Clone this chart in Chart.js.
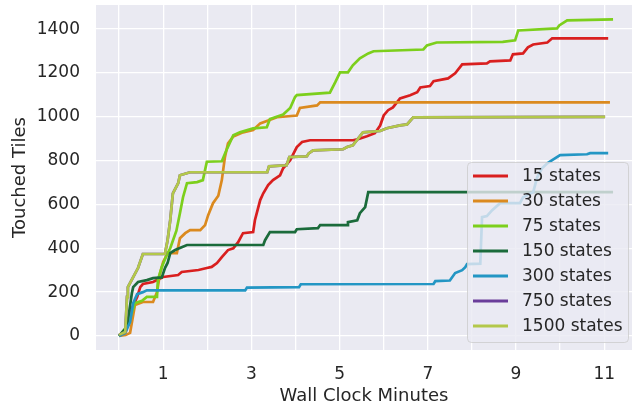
<!DOCTYPE html>
<html>
<head>
<meta charset="utf-8">
<script src="https://cdn.jsdelivr.net/npm/chart.js@4.4.1/dist/chart.umd.min.js"></script>
<style>
  html, body { margin: 0; padding: 0; background: #ffffff; }
  #wrap { width: 636px; height: 409px; }
</style>
</head>
<body>
<div id="wrap"><canvas id="chart"></canvas></div>
<script>
// [wall clock minutes, touched tiles]
const s15 = [[0,0],[0.15,20],[0.3,130],[0.41,178],[0.48,223],[0.54,237],[0.77,246],[1.0,269],[1.34,278],[1.42,292],[1.8,301],[1.99,310],[2.1,315],[2.22,333],[2.33,360],[2.47,392],[2.59,400],[2.7,428],[2.81,469],[3.04,474],[3.08,528],[3.2,620],[3.27,651],[3.38,688],[3.49,711],[3.65,733],[3.72,765],[3.88,802],[4.03,862],[4.15,885],[4.33,893],[5.31,893],[5.45,900],[5.62,911],[5.8,925],[5.92,960],[6.0,1006],[6.1,1030],[6.21,1043],[6.37,1084],[6.6,1098],[6.76,1112],[6.83,1134],[7.05,1140],[7.13,1162],[7.46,1175],[7.62,1198],[7.78,1239],[8.34,1244],[8.41,1253],[8.87,1257],[8.93,1285],[9.16,1289],[9.27,1317],[9.39,1330],[9.71,1339],[9.82,1358],[11.09,1358]];
const s30 = [[0,0],[0.15,5],[0.25,14],[0.36,141],[0.54,155],[0.77,155],[0.86,200],[0.93,287],[1.0,337],[1.1,378],[1.31,378],[1.38,446],[1.5,469],[1.61,483],[1.84,483],[1.95,506],[2.02,551],[2.13,606],[2.25,640],[2.33,711],[2.4,816],[2.47,879],[2.59,910],[2.81,929],[3.04,940],[3.2,970],[3.58,998],[4.03,1006],[4.1,1040],[4.49,1052],[4.56,1066],[11.13,1066]];
const s75 = [[0,0],[0.2,50],[0.36,150],[0.52,160],[0.63,178],[0.86,178],[0.88,255],[0.97,315],[1.08,369],[1.16,400],[1.3,480],[1.38,560],[1.45,633],[1.54,697],[1.77,702],[1.9,711],[1.99,795],[2.33,797],[2.45,855],[2.59,916],[2.74,929],[3.04,947],[3.35,952],[3.42,990],[3.72,1010],[3.88,1040],[3.99,1090],[4.03,1099],[4.78,1110],[4.9,1157],[5.01,1203],[5.19,1203],[5.3,1235],[5.46,1267],[5.65,1289],[5.77,1299],[6.9,1307],[6.98,1326],[7.2,1339],[8.7,1342],[8.98,1349],[9.05,1394],[9.93,1403],[9.98,1417],[10.16,1440],[11.2,1444]];
const s150 = [[0,0],[0.18,41],[0.29,195],[0.32,223],[0.43,246],[0.63,255],[0.77,264],[0.97,267],[1.04,310],[1.1,333],[1.16,378],[1.27,392],[1.42,405],[1.54,415],[3.27,415],[3.31,437],[3.42,474],[3.99,474],[4.03,487],[4.51,492],[4.56,506],[5.17,506],[5.19,519],[5.4,528],[5.46,560],[5.58,588],[5.65,656],[11.2,656]];
const s300 = [[0,0],[0.14,14],[0.25,64],[0.32,150],[0.41,191],[0.54,200],[0.63,208],[2.86,208],[2.9,221],[4.08,223],[4.12,236],[7.13,237],[7.17,250],[7.5,253],[7.62,287],[7.78,300],[7.85,314],[7.89,328],[8.19,330],[8.23,542],[8.34,547],[8.46,574],[8.64,606],[9.09,606],[9.16,633],[9.39,656],[9.48,724],[9.59,765],[9.71,788],[9.82,802],[10.0,825],[10.61,829],[10.68,834],[11.09,834]];
const s1500 = [[0,5],[0.14,18],[0.18,178],[0.2,223],[0.32,269],[0.43,310],[0.54,374],[1.04,374],[1.1,437],[1.16,528],[1.22,651],[1.34,697],[1.38,733],[1.61,747],[3.36,747],[3.4,774],[3.8,779],[3.86,816],[4.26,820],[4.3,833],[4.4,847],[5.08,852],[5.17,862],[5.3,870],[5.53,929],[5.92,935],[6.07,948],[6.37,961],[6.53,965],[6.67,997],[11.02,1000]];
// 750 states sits under 1500 states in the picture
const s750 = s1500.slice();

const seriesNames = ['15 states', '30 states', '75 states', '150 states', '300 states', '750 states', '1500 states'];
const seriesData = [s15, s30, s75, s150, s300, s750, s1500];
const seriesColors = ['#d91f1f', '#db8a1f', '#7ccf1c', '#1b6b3b', '#2396c4', '#6a3d9a', '#b3c84a'];
const yTicks = [0, 200, 400, 600, 800, 1000, 1200, 1400];
const xGrid = [0, 1, 2, 3, 4, 5, 6, 7, 8, 9, 10, 11];
const xLabelled = [1, 3, 5, 7, 9, 11];

const FONT = '"DejaVu Sans", sans-serif';
const TEXT = '#262626';

// seaborn style plot background
const plotBg = {
  id: 'plotBg',
  beforeDraw(chart) {
    const a = chart.chartArea;
    const ctx = chart.ctx;
    ctx.save();
    ctx.fillStyle = '#eaeaf2';
    ctx.fillRect(a.left, a.top, a.right - a.left, a.bottom - a.top);
    ctx.restore();
  }
};

// legend drawn inside the plot, lower right
const innerLegend = {
  id: 'innerLegend',
  afterDraw(chart) {
    const a = chart.chartArea;
    const ctx = chart.ctx;
    const w = 161, h = 180;
    const x0 = a.right - 4 - w, y0 = a.bottom - 8 - h;
    ctx.save();
    ctx.beginPath();
    ctx.roundRect(x0 + 0.5, y0 + 0.5, w, h, 4);
    ctx.fillStyle = 'rgba(234,234,242,0.8)';
    ctx.fill();
    ctx.strokeStyle = 'rgba(204,204,204,0.8)';
    ctx.lineWidth = 1;
    ctx.stroke();
    ctx.font = '17px ' + FONT;
    ctx.textBaseline = 'middle';
    ctx.textAlign = 'left';
    seriesNames.forEach((name, i) => {
      const y = y0 + 14 + i * 25;
      ctx.beginPath();
      ctx.moveTo(x0 + 6, y);
      ctx.lineTo(x0 + 41, y);
      ctx.strokeStyle = seriesColors[i];
      ctx.lineWidth = 2.8;
      ctx.stroke();
      ctx.fillStyle = TEXT;
      ctx.fillText(name, x0 + 55, y + 1);
    });
    ctx.restore();
  }
};

// fixed axis box sizes, no extra room for overhanging tick labels
function fixBox(s, size) {
  if (s.isHorizontal()) s.height = size; else s.width = size;
  s.paddingTop = 0;
  s.paddingBottom = 0;
  s.paddingLeft = 0;
  s.paddingRight = 0;
}

new Chart(document.getElementById('chart'), {
  type: 'line',
  data: {
    datasets: seriesData.map((pts, i) => ({
      label: seriesNames[i],
      data: pts.map(p => ({ x: p[0], y: p[1] })),
      borderColor: seriesColors[i],
      backgroundColor: seriesColors[i],
      borderWidth: 2.7,
      pointRadius: 0,
      tension: 0,
      fill: false,
      order: -i,
    })),
  },
  options: {
    responsive: true,
    maintainAspectRatio: false,
    animation: false,
    layout: { padding: { top: 5, right: 4, left: 0, bottom: 0 } },
    plugins: {
      legend: { display: false },
      tooltip: { enabled: false },
    },
    scales: {
      x: {
        type: 'linear',
        min: -0.523,
        max: 11.63,
        afterBuildTicks: (s) => { s.ticks = xGrid.map(v => ({ value: v })); },
        afterFit: (s) => fixBox(s, 59),
        border: { display: false },
        grid: { color: '#ffffff', lineWidth: 1.3, drawTicks: false },
        ticks: {
          autoSkip: false,
          maxRotation: 0,
          padding: 14,
          color: TEXT,
          font: { family: FONT, size: 17 },
          callback: (v) => (xLabelled.includes(v) ? String(v) : ''),
        },
        title: {
          display: true,
          text: 'Wall Clock Minutes',
          color: TEXT,
          font: { family: FONT, size: 18 },
          padding: { top: 0, bottom: 2 },
        },
      },
      y: {
        type: 'linear',
        min: -64,
        max: 1510,
        afterBuildTicks: (s) => { s.ticks = yTicks.map(v => ({ value: v })); },
        afterFit: (s) => fixBox(s, 96),
        border: { display: false },
        grid: { color: '#ffffff', lineWidth: 1.3, drawTicks: false },
        ticks: {
          autoSkip: false,
          padding: 16,
          color: TEXT,
          font: { family: FONT, size: 17 },
          callback: (v) => String(v),
        },
        title: {
          display: true,
          text: 'Touched Tiles',
          color: TEXT,
          font: { family: FONT, size: 18 },
          padding: { top: 10, bottom: 0 },
        },
      },
    },
  },
  plugins: [plotBg, innerLegend],
});
</script>
</body>
</html>
